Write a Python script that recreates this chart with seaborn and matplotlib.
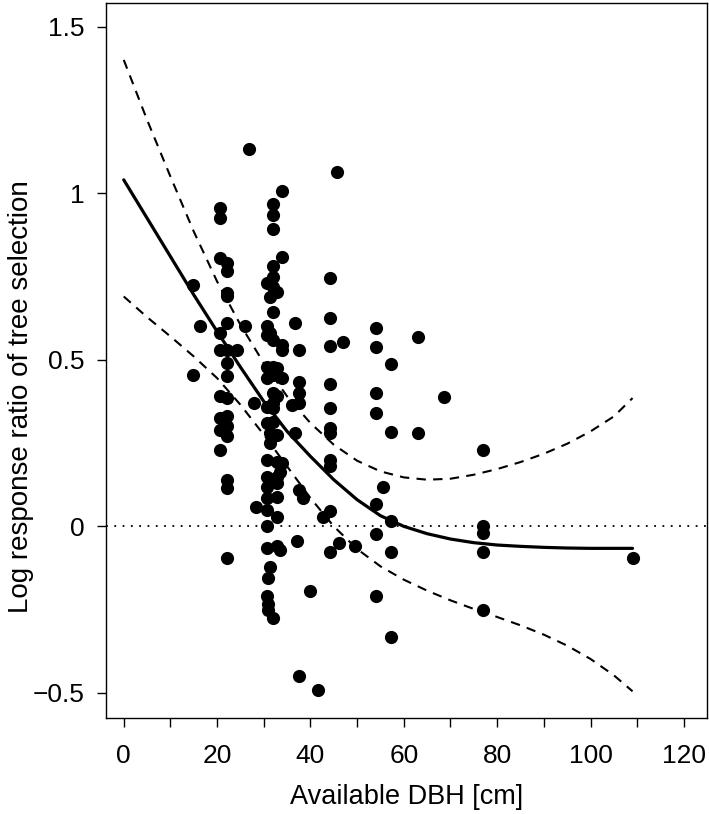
import numpy as np
import pandas as pd
import seaborn as sns
import matplotlib.pyplot as plt

dbh = ([14.9, 14.9, 16.4]
       + [20.7] * 9
       + [22.2] * 15
       + [24.3, 26.0, 26.9, 27.8, 28.4]
       + [34.0] * 6
       + [32.0] * 14
       + [30.7] * 15
       + [32.9] * 10
       + [31.4] * 5
       + [31.0] * 3
       + [31.9, 33.5, 33.5]
       + [36.7, 36.7, 37.2, 36.0]
       + [37.6] * 6
       + [38.4, 40.0, 41.6, 42.7]
       + [44.2] * 11
       + [45.7, 46.1, 47.0, 49.5]
       + [54.0] * 7
       + [55.5]
       + [57.2] * 5
       + [63.0, 63.0, 68.6]
       + [77.0] * 5
       + [109.1])
lrr = ([0.724, 0.455, 0.60]
       + [0.955, 0.925, 0.805, 0.58, 0.53, 0.39, 0.325, 0.29, 0.23]
       + [0.79, 0.765, 0.70, 0.69, 0.61, 0.53, 0.49, 0.45, 0.385, 0.33, 0.30, 0.27, 0.14, 0.115, -0.095]
       + [0.53, 0.60, 1.132, 0.37, 0.057]
       + [1.006, 0.808, 0.545, 0.53, 0.444, 0.189]
       + [0.967, 0.934, 0.892, 0.78, 0.748, 0.718, 0.643, 0.559, 0.477, 0.453, 0.40, 0.37, 0.354, 0.312]
       + [0.73, 0.60, 0.574, 0.477, 0.444, 0.357, 0.309, 0.198, 0.147, 0.117, 0.084, 0.048, 0.0, -0.066, -0.21]
       + [0.703, 0.474, 0.39, 0.273, 0.192, 0.147, 0.129, 0.087, 0.027, -0.06]
       + [0.688, 0.58, 0.279, 0.249, -0.123]
       + [-0.156, -0.234, -0.252]
       + [-0.276, -0.072, 0.162]
       + [0.61, 0.28, -0.044, 0.363]
       + [0.53, 0.432, 0.40, 0.37, 0.11, -0.45]
       + [0.085, -0.195, -0.49, 0.027]
       + [0.745, 0.625, 0.54, 0.426, 0.354, 0.295, 0.28, 0.198, 0.18, 0.045, -0.078]
       + [1.063, -0.05, 0.553, -0.058]
       + [0.595, 0.538, 0.40, 0.34, 0.066, -0.022, -0.208]
       + [0.117]
       + [0.487, 0.283, 0.015, -0.077, -0.333]
       + [0.568, 0.28, 0.387]
       + [0.23, 0.0, -0.02, -0.078, -0.25]
       + [-0.096])

# fitted curve and confidence band
fit_x = [0, 5, 10, 15, 20, 25, 30, 35, 40, 45, 50, 55, 60, 65, 70, 75, 80, 85, 90, 95, 100, 105, 109]
fit_y = [1.04, 0.925, 0.81, 0.695, 0.585, 0.478, 0.375, 0.285, 0.21, 0.14, 0.08, 0.032, 0.0,
         -0.022, -0.038, -0.049, -0.056, -0.060, -0.063, -0.065, -0.066, -0.066, -0.066]
upper = [1.40, 1.22, 1.05, 0.885, 0.735, 0.605, 0.49, 0.39, 0.31, 0.245, 0.197, 0.165, 0.147,
         0.14, 0.143, 0.155, 0.172, 0.193, 0.218, 0.248, 0.285, 0.33, 0.385]
lower = [0.69, 0.628, 0.57, 0.51, 0.445, 0.365, 0.275, 0.18, 0.085, 0.0, -0.068, -0.12, -0.16,
         -0.193, -0.222, -0.248, -0.272, -0.297, -0.325, -0.358, -0.398, -0.447, -0.495]

y_ticks = [-0.5, 0, 0.5, 1, 1.5]
y_tick_labels = ['\u22120.5', '0', '0.5', '1', '1.5']
x_ticks = list(range(0, 130, 10))
x_tick_labels = [str(t) if t % 20 == 0 else '' for t in x_ticks]

sns.set_style('white')
plt.rcParams['font.family'] = ['Liberation Sans', 'DejaVu Sans']
plt.rcParams['text.color'] = 'black'
plt.rcParams['axes.labelcolor'] = 'black'

df = pd.DataFrame({'dbh': dbh, 'lrr': lrr})
curve = pd.DataFrame({'x': fit_x, 'fit': fit_y, 'upper': upper, 'lower': lower})

fig = plt.figure(figsize=(7.09, 8.14), dpi=100)
ax = fig.add_axes([0.1495, 0.118, 0.848, 0.878])

ax.axhline(0, color='black', lw=1.3, ls=(0, (1.0, 3.6)), zorder=1)
sns.scatterplot(data=df, x='dbh', y='lrr', color='black', s=90, linewidth=0, ax=ax, zorder=3)
sns.lineplot(data=curve, x='x', y='fit', color='black', lw=2.3, sort=False, estimator=None, ax=ax, zorder=4)
for col in ['upper', 'lower']:
    sns.lineplot(data=curve, x='x', y=col, color='black', lw=1.5, sort=False, estimator=None,
                 ax=ax, zorder=2, dashes=False, linestyle=(0, (4.5, 3.5)))

ax.set_xlim(-3.8, 125)
ax.set_ylim(-0.575, 1.57)
ax.set_xticks(x_ticks)
ax.set_xticklabels(x_tick_labels)
ax.set_yticks(y_ticks)
ax.set_yticklabels(y_tick_labels)
ax.tick_params(axis='both', direction='out', length=6.5, width=1, colors='black', labelsize=19,
               bottom=True, left=True)
ax.tick_params(axis='x', pad=12)
ax.tick_params(axis='y', pad=9)
ax.set_xlabel('Available DBH [cm]', fontsize=19.5, labelpad=12)
ax.set_ylabel('Log response ratio of tree selection', fontsize=20)
ax.yaxis.set_label_coords(-0.12, 0.45)
for s in ax.spines.values():
    s.set_color('black')
    s.set_linewidth(1)

fig.savefig('out.png', dpi=100)
